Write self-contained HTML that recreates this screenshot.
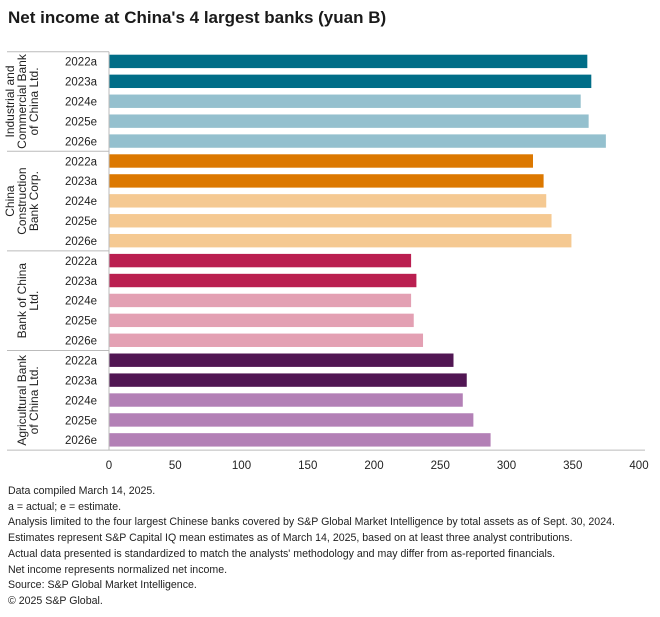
<!DOCTYPE html>
<html><head><meta charset="utf-8"><style>
body{margin:0;background:#fff;font-family:"Liberation Sans",sans-serif;color:#222}
#wrap{position:relative;width:660px;height:617px;overflow:hidden}
h1{position:absolute;left:8px;top:8px;margin:0;font-size:17px;font-weight:bold;color:#1a1a1a}
#notes{position:absolute;left:8px;top:484px;font-size:10.6px;line-height:15.7px;color:#222}
</style></head><body>
<div id="wrap">
<h1>Net income at China's 4 largest banks (yuan B)</h1>
<svg id="chart" width="660" height="480" style="position:absolute;left:0;top:0"></svg>
<div id="notes">
Data compiled March 14, 2025.<br>
a = actual; e = estimate.<br>
Analysis limited to the four largest Chinese banks covered by S&amp;P Global Market Intelligence by total assets as of Sept. 30, 2024.<br>
Estimates represent S&amp;P Capital IQ mean estimates as of March 14, 2025, based on at least three analyst contributions.<br>
Actual data presented is standardized to match the analysts' methodology and may differ from as-reported financials.<br>
Net income represents normalized net income.<br>
Source: S&amp;P Global Market Intelligence.<br>
© 2025 S&amp;P Global.
</div>
</div>
<script>
const banks = [["Industrial and","Commercial Bank","of China Ltd."],["China","Construction","Bank Corp."],["Bank of China","Ltd."],["Agricultural Bank","of China Ltd."]];
const years = ["2022a","2023a","2024e","2025e","2026e"];
const icbc = [361,364,356,362,375];
const ccb = [320,328,330,334,349];
const boc = [228,232,228,230,237];
const abc = [260,270,267,275,288];
const ticks = [0,50,100,150,200,250,300,350,400];
const darkColors = ["#006d87","#dc7800","#ba1f50","#511653"];
const lightColors = ["#94c0ce","#f5c992","#e3a0b3","#b380b6"];

const series = [icbc,ccb,boc,abc];
const svg = document.getElementById('chart');
const NS = "http://www.w3.org/2000/svg";
const x0 = 109, x1 = 643, top0 = 51.7, groupH = 99.6;
const xs = v => x0 + (v/400)*(x1-x0-4);
function mk(t,a){const e=document.createElementNS(NS,t);for(const k in a)e.setAttribute(k,a[k]);svg.appendChild(e);return e;}
const rowH = groupH/5;
series.forEach((vals,g)=>{
  const gy = top0 + g*groupH;
  const sep = mk('line',{x1:7,x2:x0,y1:gy,y2:gy,stroke:'#bbb','stroke-width':1});
  
  
  const lines = banks[g];
  const n = lines.length;
  const cx = n===3?22:28, cy = gy+groupH/2;
  const t = mk('text',{transform:`translate(${cx},${cy}) rotate(-90)`,'text-anchor':'middle','font-size':'12',fill:'#222'});
  
  
  const lh = 12;
  lines.forEach((s,i)=>{const ts=document.createElementNS(NS,'tspan');ts.setAttribute('x',0);ts.setAttribute('y',(i-(n-1)/2)*lh + 4);ts.textContent=s;t.appendChild(ts);});
  vals.forEach((v,i)=>{
    const ry = gy + i*rowH;
    const r = mk('rect',{x:x0,y:ry+3,width:xs(v)-x0,height:13.4,fill:i<2?darkColors[g]:lightColors[g]});
    
    
    const yl = mk('text',{x:97,y:ry+14,'text-anchor':'end','font-size':'11.5',fill:'#222'});
    yl.textContent = years[i];
    
    
  });
});
const yb = top0 + 4*groupH;
const bl = mk('line',{x1:7,x2:645,y1:yb,y2:yb,stroke:'#bbb','stroke-width':1});


const vl = mk('line',{x1:x0,x2:x0,y1:top0,y2:yb,stroke:'#bbb','stroke-width':1});


ticks.forEach(v=>{
  const t = mk('text',{x:xs(v),y:yb+19,'text-anchor':'middle','font-size':'11.5',fill:'#222'});
  t.textContent = v;
  
  
});
</script>
</body></html>
